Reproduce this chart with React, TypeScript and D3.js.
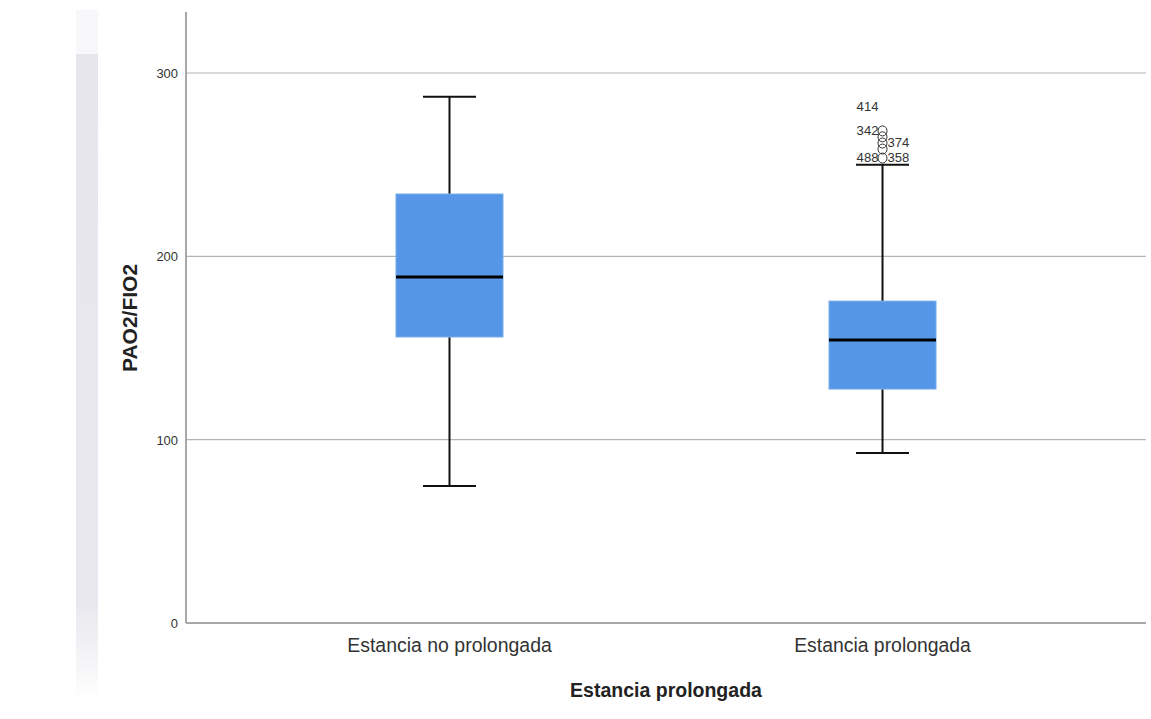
import React from "react";
import * as d3 from "d3";

const categories = ["Estancia no prolongada", "Estancia prolongada"];
const whiskerLow = [74.7, 92.7];
const q1 = [156, 127.6];
const median = [188.7, 154.4];
const q3 = [234, 175.6];
const whiskerHigh = [287, 250];
const outlierValues = [281.5, 268.4, 265.2, 261.8, 258.5, 253.6, 253.6];
const outlierLabels = ["414", "342", "", "374", "", "488", "358"];
const outlierMarker = [false, true, true, true, true, true, false];
const outlierLabelSide = ["left", "left", "", "right", "", "left", "right"];
const yTicks = [0, 100, 200, 300];
const yTitle = "PAO2/FIO2";
const xTitle = "Estancia prolongada";

export default function App() {
  const W = 1151, H = 719;
  const left = 186, right = 1146, top = 12, bottom = 623;
  const y = d3.scaleLinear().domain([0, 300]).range([bottom, 73]);
  const x = d3.scalePoint<string>().domain(categories).range([left, right]).padding(0.6085);
  const bw = 107;
  const capW = 53;
  const sans = "'Liberation Sans', Arial, sans-serif";
  return (
    <svg width={W} height={H} style={{ position: "absolute", left: 0, top: 0, background: "#fff" }}>
      <defs>
        <linearGradient id="fade" x1="0" y1="0" x2="0" y2="1">
          <stop offset="0" stopColor="#e6e6ec" />
          <stop offset="0.85" stopColor="#e8e8ee" />
          <stop offset="1" stopColor="#ffffff" />
        </linearGradient>
      </defs>
      <rect x={76} y={54} width={22} height={648} fill="url(#fade)" />
      <rect x={76} y={10} width={22} height={44} fill="#f8f8fa" />
      {yTicks.filter(t => t > 0).map(t => (
        <line key={t} x1={left} x2={right} y1={y(t)} y2={y(t)} stroke="#b4b4b4" strokeWidth={1.2} />
      ))}
      <line x1={left} x2={left} y1={top} y2={bottom} stroke="#a8a8a8" strokeWidth={2} />
      <line x1={left} x2={right} y1={bottom} y2={bottom} stroke="#a8a8a8" strokeWidth={2} />
      {yTicks.map(t => (
        <text key={t} x={178} y={y(t) + 5} textAnchor="end" fontFamily={sans} fontSize={13} fill="#333"
          textLength={String(t).length * 7.2} lengthAdjust="spacingAndGlyphs">{t}</text>
      ))}
      {categories.map((c, i) => {
        const cx = x(c) as number;
        return (
          <g key={c}>
            <line x1={cx} x2={cx} y1={y(whiskerHigh[i])} y2={y(q3[i])} stroke="#111" strokeWidth={2} />
            <line x1={cx} x2={cx} y1={y(q1[i])} y2={y(whiskerLow[i])} stroke="#111" strokeWidth={2} />
            <line x1={cx - capW / 2} x2={cx + capW / 2} y1={y(whiskerHigh[i])} y2={y(whiskerHigh[i])} stroke="#111" strokeWidth={2} />
            <line x1={cx - capW / 2} x2={cx + capW / 2} y1={y(whiskerLow[i])} y2={y(whiskerLow[i])} stroke="#111" strokeWidth={2} />
            <rect x={cx - bw / 2} y={y(q3[i])} width={bw} height={y(q1[i]) - y(q3[i])} fill="#5596e6" stroke="#7aaeec" strokeWidth={1} />
            <line x1={cx - bw / 2} x2={cx + bw / 2} y1={y(median[i])} y2={y(median[i])} stroke="#000" strokeWidth={3} />
            <text x={cx} y={652} textAnchor="middle" fontFamily={sans} fontSize={20} fill="#333"
              textLength={c.length * 9.3} lengthAdjust="spacingAndGlyphs">{c}</text>
          </g>
        );
      })}
      {(() => {
        const cx = x(categories[1]) as number;
        return outlierValues.map((v, k) => {
          const side = outlierLabelSide[k];
          const lx = side === "left" ? cx - 4 : cx + 5;
          return (
            <g key={k}>
              {outlierMarker[k] && <ellipse cx={cx} cy={y(v)} rx={4.5} ry={5} fill="none" stroke="#333" strokeWidth={1} />}
              {outlierLabels[k] && (
                <text x={lx} y={y(v) + 4} textAnchor={side === "left" ? "end" : "start"}
                  fontFamily={sans} fontSize={12.5} fill="#333"
                  textLength={outlierLabels[k].length * 7.3} lengthAdjust="spacingAndGlyphs">{outlierLabels[k]}</text>
              )}
            </g>
          );
        });
      })()}
      <text x={666} y={697} textAnchor="middle" fontFamily={sans} fontWeight="bold" fontSize={19.5} fill="#222">{xTitle}</text>
      <text transform={`translate(137, ${318}) rotate(-90)`} textAnchor="middle" fontFamily={sans} fontWeight="bold" fontSize={21} fill="#222">{yTitle}</text>
    </svg>
  );
}
